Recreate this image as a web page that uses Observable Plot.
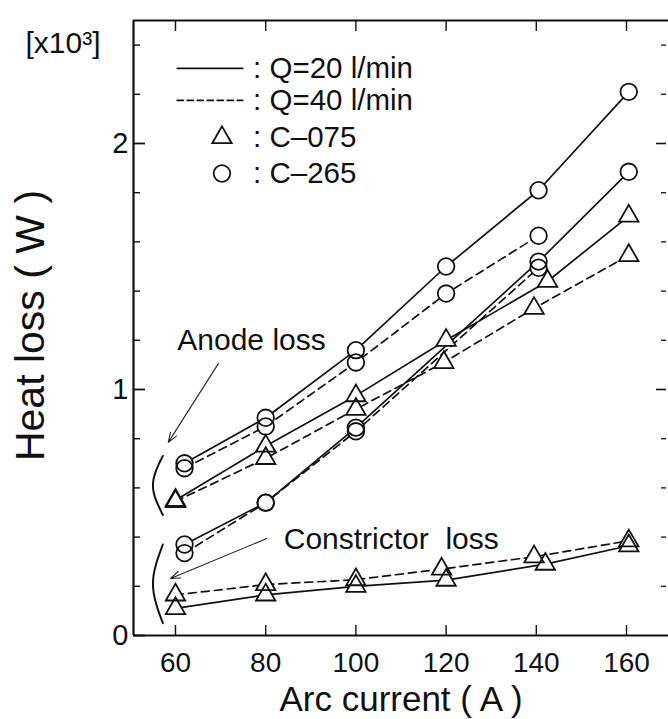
<!DOCTYPE html>
<html><head><meta charset="utf-8">
<script src="https://cdn.jsdelivr.net/npm/d3@7"></script>
<script src="https://cdn.jsdelivr.net/npm/@observablehq/plot@0.6"></script>
<style>
body{margin:0;background:#fff}
svg{display:block}
</style>
</head><body><div id="chart"></div>
<script>
// ---- tick values ----
const xTicks = [60, 80, 100, 120, 140, 160];
const yMajor = [0, 1, 2];
const yMinor = [0.2, 0.4, 0.6, 0.8, 1.2, 1.4, 1.6, 1.8, 2.2, 2.4];
const yTickLabels = ["0", "1", "2"];

// ---- data (heat loss, x10^3 W) ----
// C-265 (circles)
const xC265AnodeQ20 = [62, 80, 100, 120, 140.5, 160.5];
const yC265AnodeQ20 = [0.70, 0.885, 1.16, 1.50, 1.81, 2.21];
const xC265AnodeQ40 = [62, 80, 100, 120, 140.5];
const yC265AnodeQ40 = [0.68, 0.85, 1.11, 1.39, 1.625];
const xC265ConstrQ20 = [62, 80, 100, 140.5, 160.5];
const yC265ConstrQ20 = [0.37, 0.54, 0.845, 1.52, 1.885];
const xC265ConstrQ40 = [62, 80, 100, 140.5];
const yC265ConstrQ40 = [0.335, 0.54, 0.83, 1.495];
// C-075 (triangles)
const xC075AnodeQ20 = [60, 80, 100, 120, 142.5, 160.5];
const yC075AnodeQ20 = [0.55, 0.77, 0.975, 1.20, 1.44, 1.705];
const xC075AnodeQ40 = [60, 80, 100, 119.5, 139.5, 160.5];
const yC075AnodeQ40 = [0.545, 0.72, 0.92, 1.11, 1.33, 1.545];
const xC075ConstrQ20 = [60, 80, 100, 120, 142, 160.5];
const yC075ConstrQ20 = [0.11, 0.165, 0.20, 0.225, 0.29, 0.365];
const xC075ConstrQ40 = [60, 80, 100, 119, 139.5, 160.5];
const yC075ConstrQ40 = [0.165, 0.207, 0.227, 0.27, 0.32, 0.385];

// ---- legend / annotations ----
const legendLabels = [": Q=20 l/min", ": Q=40 l/min", ": C\u2013075", ": C\u2013265"];
const legendLineX = [60.4, 74.9];
const legendLineY = [2.305, 2.175];
const legendSymX = 70.3;
const legendSymY = [2.024, 1.878];
const legendTextX = 77.2;
const annoTexts = ["Anode loss", "Constrictor\u00a0 loss"];
const annoTextX = [60.4, 84];
const annoTextY = [1.2, 0.39];
const arrowFrom = [[69.5, 1.105], [80.2, 0.394]];
const arrowTo = [[58.4, 0.785], [58.9, 0.232]];
const bracket1 = [[57.2, 0.73], [55.0, 0.61], [57.2, 0.49]];
const bracket2 = [[57.2, 0.37], [55.0, 0.21], [57.2, 0.05]];

const xDomain = [50.69, 169.31];
const yDomain = [0, 2.5];
const W = 668, H = 719, mL = 133, mT = 20, mR = 0, mB = 84;
const plotW = W - mL - mR;
const plotH = H - mT - mB;
const font = "'Liberation Sans', Arial, Helvetica, sans-serif";

const rows = [];
function add(xs, ys, mat, flow, loss) {
  xs.forEach((x, i) => rows.push({x, y: ys[i], mat, flow, key: mat + flow + loss}));
}
add(xC265AnodeQ20, yC265AnodeQ20, "C-265", "Q20", "anode");
add(xC265AnodeQ40, yC265AnodeQ40, "C-265", "Q40", "anode");
add(xC265ConstrQ20, yC265ConstrQ20, "C-265", "Q20", "constr");
add(xC265ConstrQ40, yC265ConstrQ40, "C-265", "Q40", "constr");
add(xC075AnodeQ20, yC075AnodeQ20, "C-075", "Q20", "anode");
add(xC075AnodeQ40, yC075AnodeQ40, "C-075", "Q40", "anode");
add(xC075ConstrQ20, yC075ConstrQ20, "C-075", "Q20", "constr");
add(xC075ConstrQ40, yC075ConstrQ40, "C-075", "Q40", "constr");

const circles = rows.filter(d => d.mat === "C-265");
const tris = rows.filter(d => d.mat === "C-075");

const legLinePts = legendLineY.flatMap((y, i) => legendLineX.map(x => ({x, y, k: i})));
const legText = legendLabels.map((t, i) => ({t, y: i < 2 ? legendLineY[i] : legendSymY[i - 2]}));
const annos = annoTexts.map((t, i) => ({t, x: annoTextX[i], y: annoTextY[i]}));
const arrows = arrowFrom.map((f, i) => ({x1: f[0], y1: f[1], x2: arrowTo[i][0], y2: arrowTo[i][1]}));
const brackets = [bracket1, bracket2].flatMap((b, k) => b.map(p => ({x: p[0], y: p[1], k})));

const CR = 8.3, TR = 7.2, SW = 1.8;

const chart = Plot.plot({
  width: W, height: H,
  marginLeft: mL, marginTop: mT, marginRight: mR, marginBottom: mB,
  style: {fontFamily: font, background: "#fff", color: "#111"},
  x: {domain: xDomain, axis: null},
  y: {domain: yDomain, axis: null},
  marks: [
    // frame (left, top, bottom)
    Plot.ruleX([xDomain[0]], {stroke: "#111", strokeWidth: 2.2}),
    Plot.ruleY([yDomain[0]], {stroke: "#111", strokeWidth: 2.2}),
    Plot.ruleY([yDomain[1]], {stroke: "#111", strokeWidth: 2}),
    // inward ticks
    Plot.ruleY(yMajor, {insetRight: plotW - 12, stroke: "#111", strokeWidth: 1.8}),
    Plot.ruleY(yMinor, {insetRight: plotW - 7, stroke: "#111", strokeWidth: 1.4}),
    Plot.ruleY(yMajor.filter(d => d > 0), {insetLeft: plotW - 12, insetRight: 2, stroke: "#111", strokeWidth: 1.6}),
    Plot.ruleY(yMinor, {insetLeft: plotW - 7, insetRight: 2, stroke: "#111", strokeWidth: 1.3}),
    Plot.ruleX(xTicks, {insetTop: plotH - 10, stroke: "#111", strokeWidth: 1.4}),
    Plot.ruleX(xTicks, {insetBottom: plotH - 11, stroke: "#111", strokeWidth: 1.4}),
    // tick labels
    Plot.text(xTicks, {x: d => d, frameAnchor: "bottom", lineAnchor: "middle", dy: 28, text: d => String(d), fontSize: 28, fill: "#111"}),
    Plot.text(yMajor, {y: d => d, frameAnchor: "left", lineAnchor: "middle", dx: -5, text: (d, i) => yTickLabels[i], textAnchor: "end", fontSize: 29, fill: "#111"}),
    // axis titles
    Plot.text(["Arc current ( A )"], {frameAnchor: "bottom", lineAnchor: "middle", dy: 64, fontSize: 35, fill: "#111"}),
    Plot.text(["Heat loss ( W )"], {frameAnchor: "left", textAnchor: "middle", lineAnchor: "middle", rotate: -90, dx: -103, dy: -2.5, fontSize: 41, fill: "#111"}),
    Plot.text(["[x10\u00b3]"], {frameAnchor: "top-left", lineAnchor: "middle", dx: -108, dy: 23, textAnchor: "start", fontSize: 30, fill: "#111"}),
    // data lines
    Plot.line(rows.filter(d => d.flow === "Q20"), {x: "x", y: "y", z: "key", stroke: "#111", strokeWidth: 1.7}),
    Plot.line(rows.filter(d => d.flow === "Q40"), {x: "x", y: "y", z: "key", stroke: "#111", strokeWidth: 1.7, strokeDasharray: "8,5"}),
    // marker interiors
    Plot.dot(circles, {x: "x", y: "y", r: CR, fill: "white", stroke: "none"}),
    Plot.dot(tris, {x: "x", y: "y", r: TR, symbol: "triangle", fill: "white", stroke: "none"}),
    // marker outlines
    Plot.dot(circles, {x: "x", y: "y", r: CR, fill: "none", stroke: "#111", strokeWidth: SW}),
    Plot.dot(tris, {x: "x", y: "y", r: TR, symbol: "triangle", fill: "none", stroke: "#111", strokeWidth: SW}),
    // legend
    Plot.line(legLinePts.filter(d => d.k === 0), {x: "x", y: "y", stroke: "#111", strokeWidth: 1.8}),
    Plot.line(legLinePts.filter(d => d.k === 1), {x: "x", y: "y", stroke: "#111", strokeWidth: 1.8, strokeDasharray: "6,4"}),
    Plot.dot([legendSymY[0]], {x: legendSymX, y: d => d, r: TR, symbol: "triangle", fill: "white", stroke: "#111", strokeWidth: SW}),
    Plot.dot([legendSymY[1]], {x: legendSymX, y: d => d, r: CR, fill: "white", stroke: "#111", strokeWidth: SW}),
    Plot.text(legText, {x: legendTextX, y: "y", text: "t", textAnchor: "start", fontSize: 29.5, fill: "#111"}),
    // annotations
    Plot.text(annos, {x: "x", y: "y", text: "t", textAnchor: "start", fontSize: 30, fill: "#111"}),
    Plot.arrow(arrows, {x1: "x1", y1: "y1", x2: "x2", y2: "y2", stroke: "#222", strokeWidth: 1.1, headLength: 14, headAngle: 40}),
    Plot.line(brackets, {x: "x", y: "y", z: "k", curve: "natural", stroke: "#111", strokeWidth: 2})
  ]
});
document.getElementById("chart").appendChild(chart);
</script>
</body></html>
